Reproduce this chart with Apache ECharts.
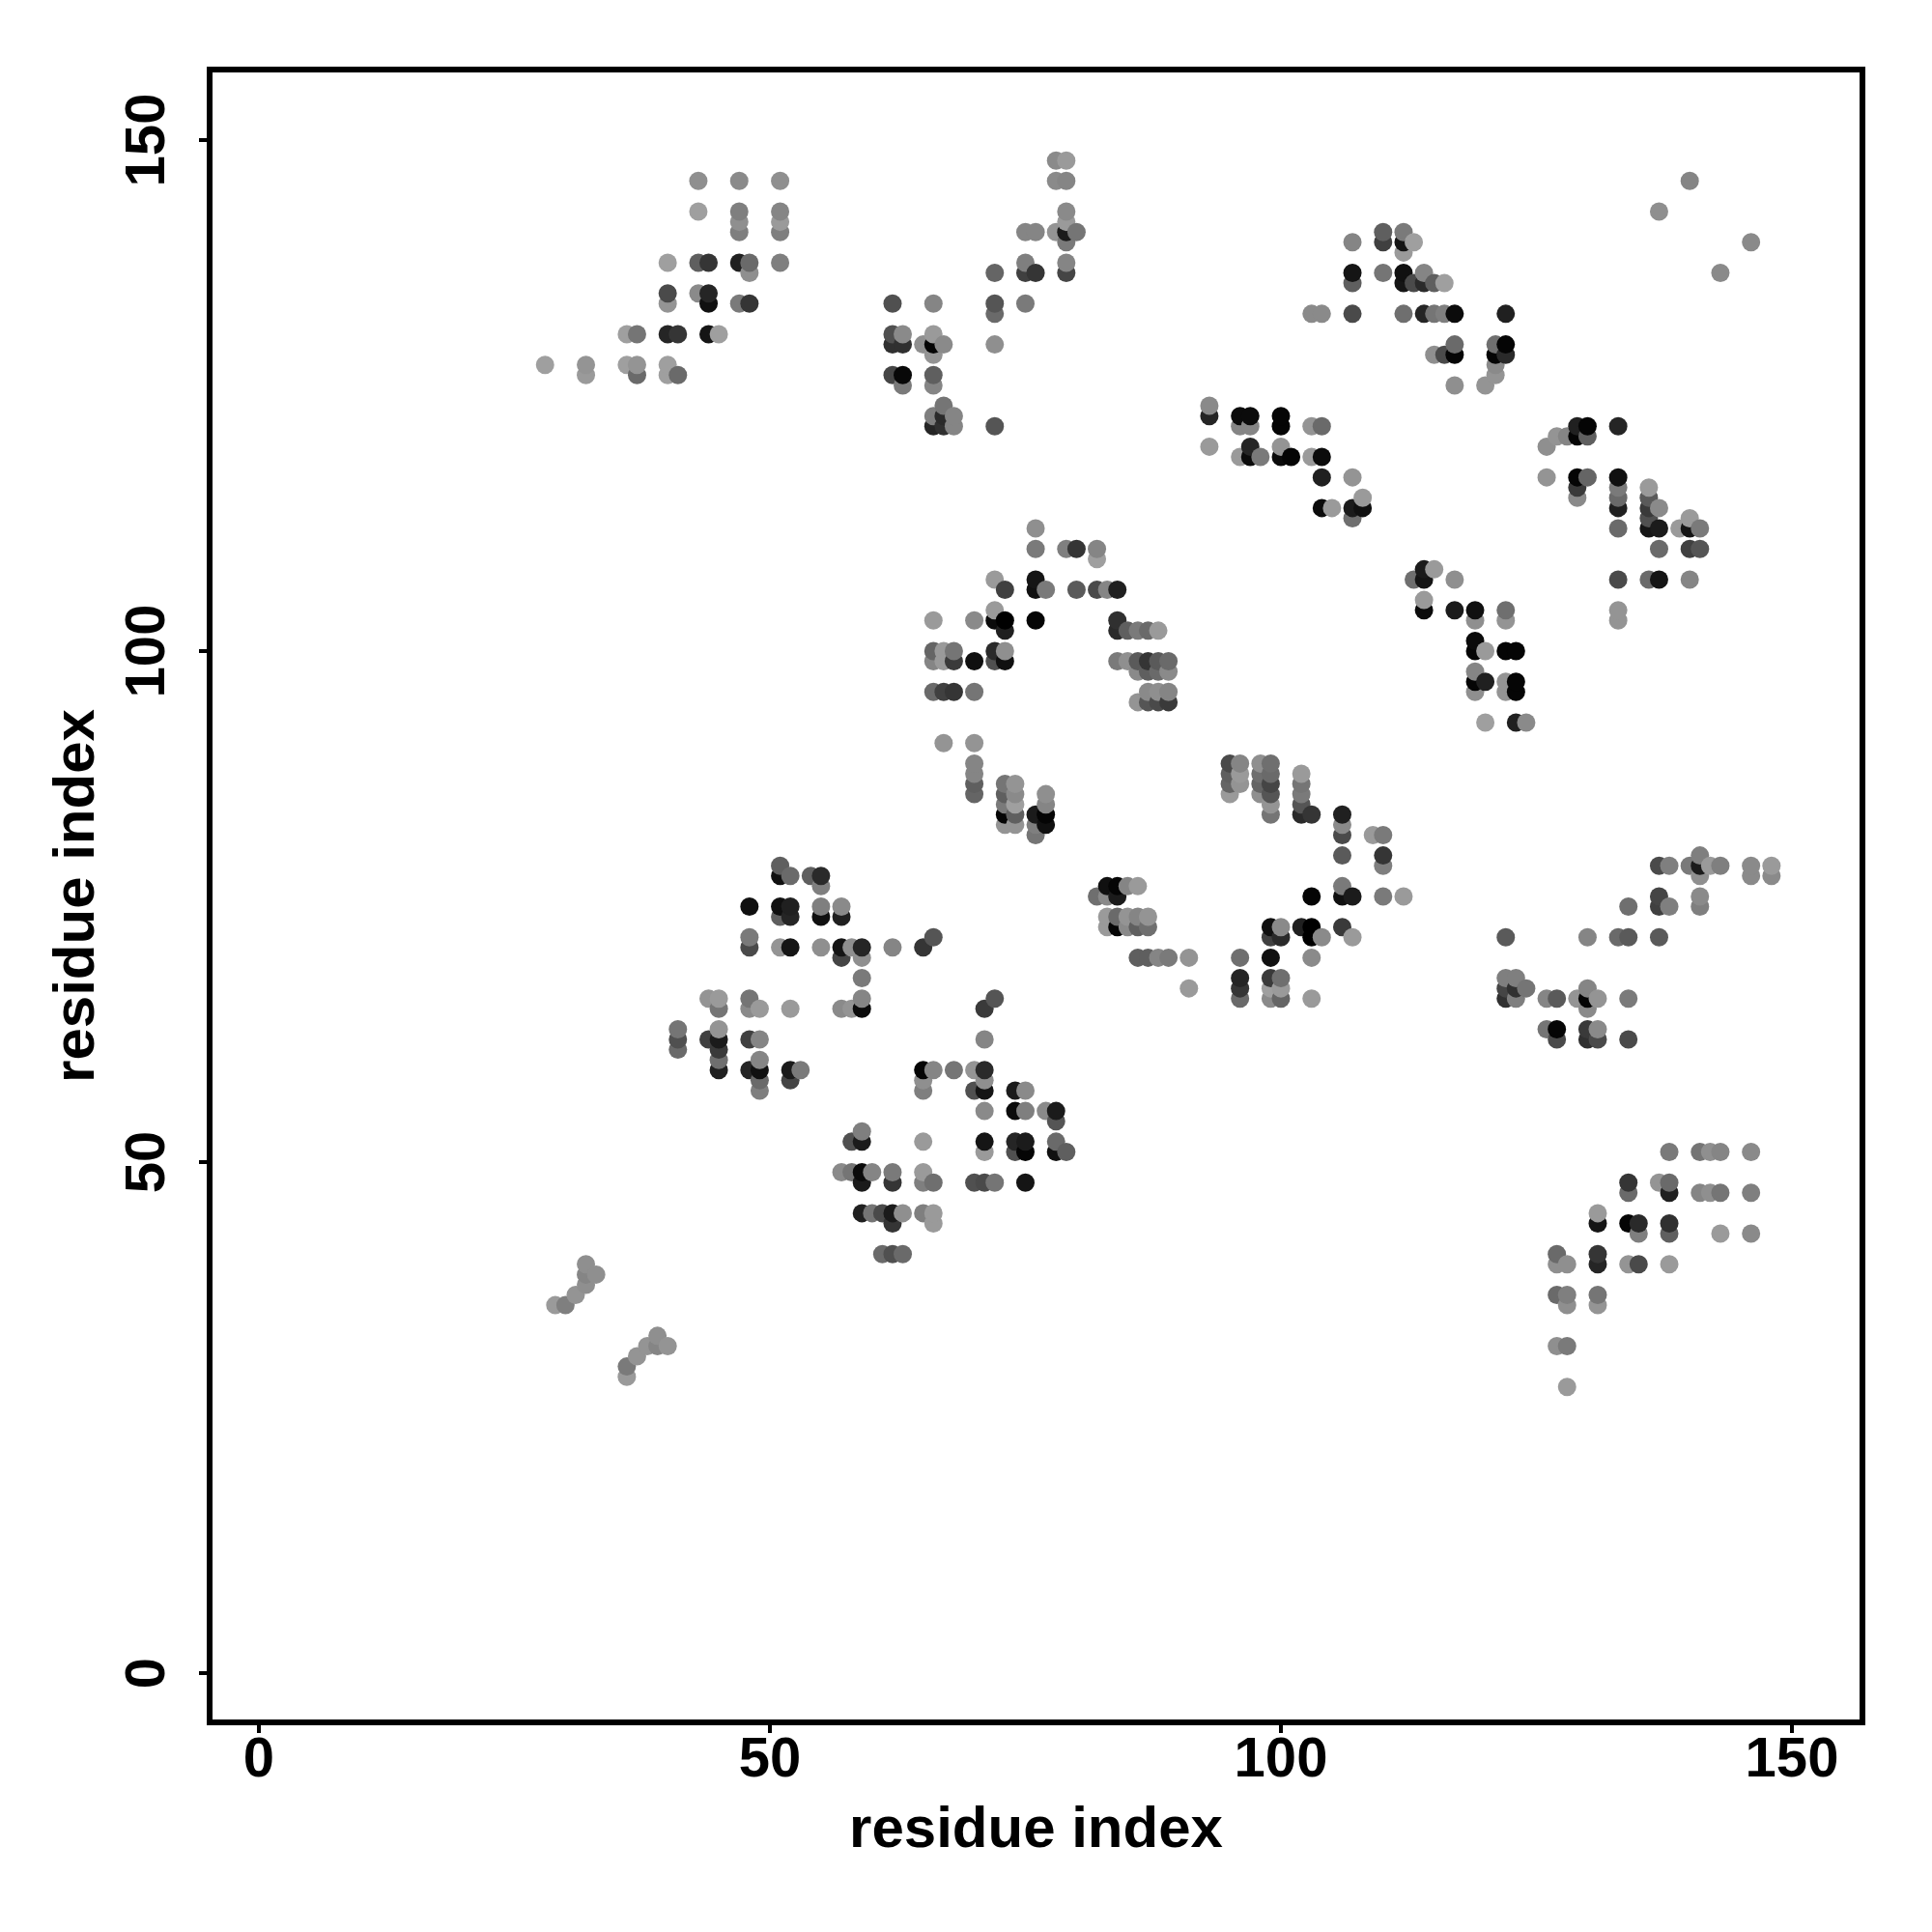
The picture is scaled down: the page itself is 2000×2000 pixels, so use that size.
<!DOCTYPE html>
<html><head><meta charset="utf-8">
<style>html,body{margin:0;padding:0;background:#fff}#c{width:2000px;height:2000px}</style>
<script src="https://cdn.jsdelivr.net/npm/echarts@6/dist/echarts.min.js"></script>
</head><body><div id="c"></div>
<script>
// Each column: [residue x, [residue y, grey level], ...]
const tickValues = [0, 50, 100, 150];
const axisTitle = 'residue index';
const shortStrands = [
 [29,[36,145]],[30,[36,120]],[31,[37,140]],[32,[38,135],[39,125],[40,135]],[33,[39,135]],
 [36,[29,145],[30,115]],[37,[31,140]],[38,[32,140]],[39,[32,125],[33,135]],[40,[32,140]]
];
const topLeft = [
 [28,[128,150]],[32,[127,145],[128,140]],[36,[128,150],[131,150]],[37,[127,100],[128,140],[131,110]],
 [40,[127,150],[128,150],[131,35],[134,140],[135,70],[138,150]],[41,[127,100],[131,50]],
 [43,[135,130],[138,90],[143,150],[146,135]],[44,[131,20],[134,15],[135,35],[138,50]],[45,[131,150]],
 [47,[134,115],[138,30],[141,120],[142,135],[143,120],[146,130]],[48,[134,50],[137,135],[138,100]],
 [51,[138,120],[141,120],[142,145],[143,125],[146,135]]
];
const topMiddle = [
 [62,[127,65],[130,45],[131,75],[134,75]],[63,[126,115],[127,8],[130,45],[131,130]],[65,[130,135]],
 [66,[122,35],[123,120],[126,125],[127,90],[129,140],[130,5],[131,145],[134,125]],
 [67,[122,45],[123,40],[124,110],[130,130]],[68,[122,125],[123,125]],
 [72,[122,80],[130,135],[133,100],[134,80],[137,95]],
 [75,[134,115],[137,60],[138,120],[141,125]],[76,[137,50],[141,125]],
 [78,[141,140],[146,130],[148,130]],
 [79,[137,65],[138,125],[140,115],[141,25],[142,145],[143,130],[146,125],[148,145]],[80,[141,110]]
];
const topRight = [
 [103,[133,130]],[104,[133,130]],[107,[133,70],[136,90],[137,20],[140,125]],[110,[137,110],[140,60],[141,90]],
 [112,[133,105],[136,20],[137,15],[139,145],[140,20],[141,115]],[113,[136,70],[140,150]],
 [114,[133,35],[136,40],[137,125]],[115,[129,135],[133,110],[136,90]],[116,[129,70],[133,120],[136,150]],
 [117,[126,135],[129,5],[130,100],[133,10]],[120,[126,140]],[121,[127,140],[128,130],[129,5],[130,105]],
 [122,[129,40],[130,5],[133,30]],
 [137,[143,135]],[140,[146,125]],[143,[137,130]],[146,[140,130]]
];
const rightUpper = [
 [93,[120,145],[123,35],[124,130]],[96,[119,145],[122,125],[123,10]],
 [97,[119,10],[120,35],[122,125],[123,10]],[98,[119,115]],[100,[119,10],[120,140],[122,5],[123,5]],
 [101,[119,5]],[103,[119,145],[122,140]],[104,[114,10],[117,30],[119,10],[122,100]],[105,[114,145]],
 [107,[113,105],[114,25],[117,140]],[108,[114,15],[115,145]],
 [113,[107,105]],[114,[104,10],[105,145],[107,20],[108,25]],[115,[108,145]],[117,[104,25],[107,135]],
 [119,[96,135],[97,5],[98,125],[100,5],[101,10],[103,135],[104,15]],[120,[93,150],[97,30],[100,145]],
 [122,[96,140],[97,140],[100,5],[103,140],[104,105]],[123,[93,30],[96,5],[97,5],[100,5]],[124,[93,130]],
 [126,[117,140],[120,135]],[127,[121,140]],[128,[121,125]],
 [129,[115,130],[116,55],[117,5],[121,5],[122,30]],[130,[117,95],[121,90],[122,5]],
 [133,[103,140],[104,140],[107,70],[112,100],[114,30],[115,100],[116,115],[117,15],[122,35]],
 [136,[107,100],[112,20],[113,75],[114,55],[115,85],[116,145]],[137,[107,20],[110,100],[112,25],[114,130]],
 [139,[112,145]],[140,[107,125],[110,60],[112,20],[113,145]],[141,[110,80],[112,115]]
];
const centerArc = [
 [66,[96,100],[99,125],[100,95],[103,145]],[67,[91,140],[96,60],[99,145],[100,145]],[68,[96,50],[99,55],[100,110]],
 [70,[86,95],[87,90],[88,125],[89,125],[91,140],[96,110],[99,15],[103,130]],
 [72,[99,75],[100,40],[103,10],[104,145],[107,145]],[73,[84,5],[83,140],[85,115],[86,90],[87,110],[99,15],[100,135],[102,30],[103,0],[106,60]],
 [74,[83,140],[84,90],[85,150],[86,130],[87,140]],
 [76,[82,110],[83,120],[84,25],[103,5],[106,15],[107,20],[110,115],[112,135]],
 [77,[83,15],[84,5],[85,125],[86,135],[106,115]],[79,[110,120]],[80,[106,85],[110,50]],
 [82,[106,70],[109,150],[110,125]],[83,[106,125]],[84,[99,115],[102,40],[103,45],[106,30]],
 [85,[99,135],[102,90]],[86,[95,140],[98,130],[99,85],[102,115]],[87,[95,80],[96,130],[98,90],[99,50],[102,100]],
 [88,[95,70],[96,135],[98,100],[99,85],[102,145]],[89,[95,55],[96,125],[98,130],[99,100]]
];
const centerRight = [
 [82,[76,105]],[83,[73,145],[74,145],[76,130],[77,15]],[84,[73,5],[74,100],[76,25],[77,5]],
 [85,[73,130],[74,140],[77,125]],[86,[70,90],[73,90],[74,125],[77,145]],[87,[70,90],[73,105],[74,140]],
 [88,[70,125]],[89,[70,115]],[91,[67,145],[70,140]],
 [95,[86,145],[87,95],[88,90],[89,70]],[96,[66,100],[67,50],[68,35],[70,105],[87,140],[88,145],[89,125]],
 [98,[86,135],[87,95],[88,105],[89,135]],[99,[66,130],[67,150],[68,55],[70,15],[72,60],[73,15],[84,110],[85,140],[86,80],[87,65],[88,100],[89,105]],
 [100,[66,95],[67,145],[68,105],[72,40],[73,130]],[102,[73,30],[84,40],[85,80],[86,115],[87,110],[88,145]],
 [103,[66,145],[70,130],[72,0],[73,0],[76,5],[84,50]],[104,[72,130]],
 [106,[73,55],[76,15],[77,115],[80,85],[82,70],[83,130],[84,30]],[107,[72,145],[76,25]],
 [109,[82,145]],[110,[76,115],[79,120],[80,50],[82,115]],[112,[76,145]]
];
const rightMiddle = [
 [122,[66,45],[67,65],[68,120],[72,85]],[123,[66,120],[67,45],[68,120]],[124,[67,110]],
 [126,[63,110],[66,125]],[127,[62,70],[63,5],[66,85]],[129,[66,140]],
 [130,[62,45],[63,55],[65,130],[66,5],[67,125],[72,125]],[131,[62,70],[63,130],[66,140]],[133,[72,100]],
 [134,[62,70],[66,115],[72,85],[75,105]],[137,[72,85],[75,60],[76,65],[79,70]],[138,[75,120],[79,120]],
 [140,[79,115]],[141,[75,120],[76,130],[78,135],[79,25],[80,120]],[142,[79,145]],[143,[79,120]],
 [146,[78,130],[79,130]],[148,[78,130],[79,145]]
];
const leftMiddle = [
 [41,[61,100],[62,75],[63,110]],[44,[62,60],[66,140]],
 [45,[59,30],[60,105],[61,55],[62,25],[63,140],[65,110],[66,145]],
 [48,[59,35],[62,60],[65,130],[66,110],[71,70],[72,115],[75,15]],
 [49,[57,120],[58,100],[59,15],[60,125],[62,125],[65,145]],
 [51,[71,140],[74,90],[75,15],[78,15],[79,90]],[52,[58,65],[59,25],[65,145],[71,20],[74,35],[75,30],[78,100]],
 [53,[59,115]],[54,[78,90]],[55,[71,135],[74,15],[75,120],[77,120],[78,40]],
 [57,[65,130],[70,65],[71,20],[74,30],[75,130]],[58,[65,140],[71,135]],
 [59,[65,10],[66,125],[68,115],[70,135],[71,35]],[62,[71,125]],[65,[71,50]],[66,[72,80]]
];
const lowerLeft = [
 [57,[49,130]],[58,[49,110],[52,75]],[59,[45,30],[48,25],[49,10],[52,25],[53,120]],[60,[45,110],[49,125]],
 [61,[41,100],[45,70]],[62,[41,75],[44,50],[45,25],[48,50],[49,115]],[63,[41,100],[45,135]],
 [65,[45,120],[48,120],[49,145],[52,145],[57,120],[58,135],[59,5]],[66,[44,145],[45,145],[48,105],[59,125]],
 [68,[59,110]],[70,[48,75],[57,75],[59,140]],
 [71,[48,70],[51,145],[52,20],[55,130],[57,20],[58,135],[59,40],[62,125],[65,55]],[72,[48,110],[66,80]],
 [74,[51,75],[52,35],[55,10],[57,25]],[75,[48,20],[51,5],[52,25],[55,120],[57,130]],[77,[55,130]],
 [78,[51,15],[52,100],[54,80],[55,25]],[79,[51,90]]
];
const lowerRight = [
 [127,[32,135],[37,100],[40,135],[41,100]],[128,[28,145],[32,115],[36,135],[37,120],[40,135]],
 [131,[36,140],[37,110],[40,35],[41,50],[44,20],[45,145]],[134,[40,140],[44,5],[47,100],[48,50]],
 [135,[40,70],[43,120],[44,40]],[137,[48,140]],[138,[40,145],[43,90],[44,45],[47,30],[48,100],[51,115]],
 [141,[47,125],[51,110]],[142,[47,135],[51,135]],[143,[43,145],[47,110],[51,125]],[146,[43,130],[47,120],[51,130]]
];

const groups = [shortStrands, topLeft, topMiddle, topRight, rightUpper, centerArc, centerRight, rightMiddle, leftMiddle, lowerLeft, lowerRight];
const seen = new Set();
const points = [];
groups.forEach(g => g.forEach(col => col.slice(1).forEach(p => {
  const k = col[0] + '_' + p[0];
  if (!seen.has(k)) { seen.add(k); points.push([col[0], p[0], p[1]]); }
})));
points.sort((a, b) => a[0] - b[0] || a[1] - b[1]);

const font = '"Liberation Sans", Arial, sans-serif';
const axisCommon = {
  type: 'value', min: -4.82, max: 156.9, name: axisTitle, nameLocation: 'middle',
  nameTextStyle: {fontFamily: font, fontWeight: 'bold', fontSize: 60, color: '#000'},
  splitLine: {show: false},
  axisLine: {show: false, onZero: false},
  axisTick: {show: true, inside: false, length: 11, customValues: tickValues, lineStyle: {color: '#000', width: 4}},
  axisLabel: {show: true, customValues: tickValues, fontFamily: font, fontWeight: 'bold', fontSize: 58, color: '#000', hideOverlap: false}
};
const chart = echarts.init(document.getElementById('c'), null, {renderer: 'canvas', width: 2000, height: 2000});
chart.setOption({
  backgroundColor: '#fff',
  animation: false,
  grid: {left: 217, top: 72, width: 1711, height: 1711, show: true, borderColor: '#000', borderWidth: 6, backgroundColor: 'transparent', containLabel: false},
  xAxis: Object.assign({}, axisCommon, {nameGap: 82, axisLabel: Object.assign({}, axisCommon.axisLabel, {margin: 11})}),
  yAxis: Object.assign({}, axisCommon, {nameGap: 107, nameRotate: 90, axisLabel: Object.assign({}, axisCommon.axisLabel, {margin: 34, rotate: 90, align: 'center', verticalAlign: 'bottom'})}),
  series: [{
    type: 'scatter', symbol: 'circle', symbolSize: 19, data: points, large: false, clip: false,
    itemStyle: {opacity: 1, color: p => { const g = Math.round(p.value[2] * 1.06); return 'rgb(' + g + ',' + g + ',' + g + ')'; }},
    emphasis: {disabled: true}
  }]
});
</script></body></html>
